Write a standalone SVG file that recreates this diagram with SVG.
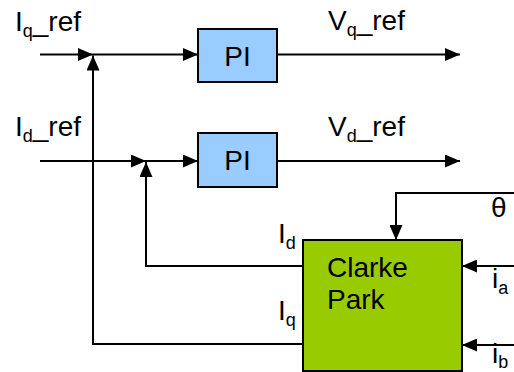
<svg xmlns="http://www.w3.org/2000/svg" width="514" height="372" viewBox="0 0 514 372">
<style>
.ln{fill:none;stroke:#000;stroke-width:2}
.arr{fill:none;stroke:#000;stroke-width:2;marker-end:url(#ah)}
.pi{fill:#99CCFF;stroke:#000;stroke-width:2}
.cp{fill:#99CC00;stroke:#000;stroke-width:2}
text{font-family:"Liberation Sans",Arial,sans-serif;font-size:28px;fill:#000}
.s{font-size:18px}
</style>
<defs>
<marker id="ah" markerWidth="15" markerHeight="13" refX="15" refY="6.5" orient="auto" markerUnits="userSpaceOnUse">
<path d="M0,0 L15,6.5 L0,13 Z" fill="#000"/>
</marker>
</defs>
<rect width="514" height="372" fill="#fff"/>
<g id="connectors">
<path class="arr" d="M40,54.5 H93"/>
<path class="arr" d="M93,54.5 H198"/>
<path class="arr" d="M303,344 H93 V55.5"/>
<path class="arr" d="M40,161 H146"/>
<path class="arr" d="M146,161 H198"/>
<path class="arr" d="M303,266 H146 V162"/>
<path class="arr" d="M277,54.5 H460"/>
<path class="arr" d="M277,161 H460"/>
<path class="arr" d="M514,193 H396 V240"/>
<path class="arr" d="M514,266 H462"/>
<path class="arr" d="M514,345 H462"/>
</g>
<g id="pi_q">
<rect class="pi" x="198" y="29" width="79" height="53"/>
<text x="237.5" y="65.5" text-anchor="middle">PI</text>
</g>
<g id="pi_d">
<rect class="pi" x="198" y="133" width="79" height="54"/>
<text x="237.5" y="170" text-anchor="middle">PI</text>
</g>
<g id="clarke_park">
<rect class="cp" x="303" y="240" width="159" height="131"/>
<text x="327" y="277">Clarke</text>
<text x="327" y="309">Park</text>
</g>
<g id="labels">
<text x="15" y="31">I<tspan class="s" dy="6">q</tspan><tspan dy="-6">_ref</tspan></text>
<text x="15" y="136">I<tspan class="s" dy="6">d</tspan><tspan dy="-6">_ref</tspan></text>
<text x="328" y="30">V<tspan class="s" dy="6">q</tspan><tspan dy="-6">_ref</tspan></text>
<text x="328" y="136">V<tspan class="s" dy="6">d</tspan><tspan dy="-6">_ref</tspan></text>
<text x="278" y="243">I<tspan class="s" dy="6">d</tspan></text>
<text x="278" y="320">I<tspan class="s" dy="6">q</tspan></text>
<text x="491" y="217">θ</text>
<text x="492" y="288">i<tspan class="s" dy="6">a</tspan></text>
<text x="492" y="363">i<tspan class="s" dy="5">b</tspan></text>
</g>
</svg>
